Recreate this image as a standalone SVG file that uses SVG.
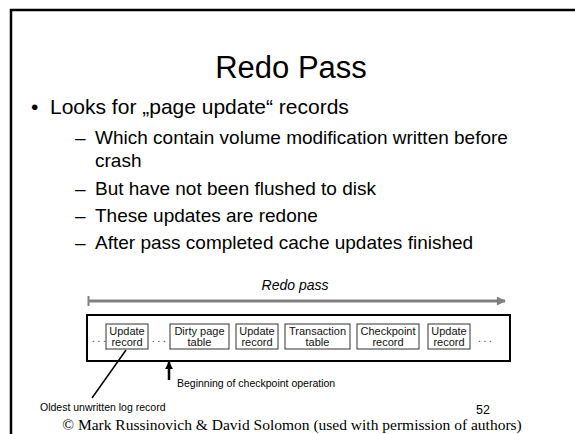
<svg xmlns="http://www.w3.org/2000/svg" width="575" height="434" viewBox="0 0 575 434">
<defs>
<style>
.t{font-family:"Liberation Sans",Arial,sans-serif;fill:#000}
.box rect{fill:#fff;stroke:#333;stroke-width:1}
.box text{font-family:"Liberation Sans",Arial,sans-serif;font-size:11px;text-anchor:middle;fill:#111}
.dots{font-family:"Liberation Sans",Arial,sans-serif;font-size:10px;fill:#333}
</style>
<marker id="ah" viewBox="0 0 10 10" refX="9" refY="5" markerWidth="3.2" markerHeight="3.2" orient="auto"><path d="M0,0 L10,5 L0,10 z" fill="#000"/></marker>
<marker id="gh" viewBox="0 0 10 10" refX="9" refY="5" markerWidth="3.5" markerHeight="3" orient="auto"><path d="M0,0 L10,5 L0,10 z" fill="#808080"/></marker>
</defs>
<rect width="575" height="434" fill="#fff"/>
<path d="M11,434 V10 H575" fill="none" stroke="#000" stroke-width="2.5"/>
<text class="t" x="291" y="78" font-size="31" text-anchor="middle">Redo Pass</text>
<text class="t" x="31" y="114" font-size="21">•</text>
<text class="t" x="50" y="114" font-size="21">Looks for „page update“ records</text>
<g class="t" font-size="19">
<text x="75" y="144">–</text><text x="95" y="144">Which contain volume modification written before</text>
<text x="95" y="167">crash</text>
<text x="75" y="195">–</text><text x="95" y="195">But have not been flushed to disk</text>
<text x="75" y="222">–</text><text x="95" y="222">These updates are redone</text>
<text x="75" y="249">–</text><text x="95" y="249">After pass completed cache updates finished</text>
</g>
<text class="t" x="295" y="290" font-size="14" font-style="italic" text-anchor="middle">Redo pass</text>
<g id="connectors">
<line x1="88" y1="301" x2="505" y2="301" stroke="#808080" stroke-width="3" marker-end="url(#gh)"/>
<line x1="88.5" y1="296" x2="88.5" y2="306" stroke="#808080" stroke-width="2"/>
<line x1="169" y1="380" x2="169" y2="362" stroke="#000" stroke-width="2.5" marker-end="url(#ah)"/>
<line x1="126" y1="350" x2="92" y2="398" stroke="#000" stroke-width="1.5"/>
</g>
<rect x="87" y="315" width="423" height="46" fill="none" stroke="#000" stroke-width="2"/>
<text class="dots" x="92" y="342">. . .</text>
<text class="dots" x="152" y="342">. . .</text>
<text class="dots" x="478" y="342">. . .</text>
<g id="n1" class="box"><rect x="106" y="324" width="42" height="25"/><text x="127" y="335">Update</text><text x="127" y="346">record</text></g>
<g id="n2" class="box"><rect x="170" y="324" width="59" height="25"/><text x="199.5" y="335">Dirty page</text><text x="199.5" y="346">table</text></g>
<g id="n3" class="box"><rect x="236" y="324" width="42" height="25"/><text x="257" y="335">Update</text><text x="257" y="346">record</text></g>
<g id="n4" class="box"><rect x="285" y="324" width="65" height="25"/><text x="317.5" y="335">Transaction</text><text x="317.5" y="346">table</text></g>
<g id="n5" class="box"><rect x="357" y="324" width="62" height="25"/><text x="388" y="335">Checkpoint</text><text x="388" y="346">record</text></g>
<g id="n6" class="box"><rect x="428" y="324" width="42" height="25"/><text x="449" y="335">Update</text><text x="449" y="346">record</text></g>
<text class="t" x="177" y="387" font-size="10.5">Beginning of checkpoint operation</text>
<text class="t" x="40" y="411" font-size="10.5">Oldest unwritten log record</text>
<text class="t" x="476" y="414" font-size="12.5">52</text>
<text x="292" y="430" font-family="'Liberation Serif','Times New Roman',serif" font-size="15.5" text-anchor="middle">© Mark Russinovich &amp; David Solomon (used with permission of authors)</text>
</svg>
